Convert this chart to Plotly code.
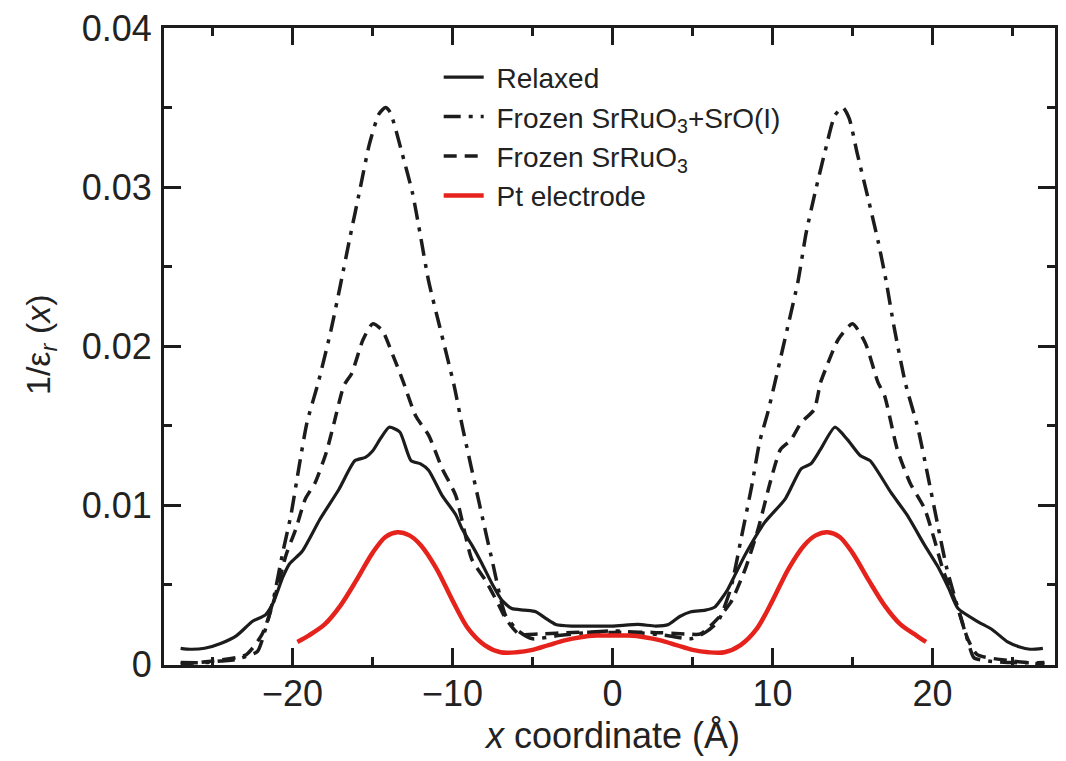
import plotly.graph_objects as go

# ---------------- data ----------------
relaxed_x = [-27.0, -26.4, -25.5, -24.5, -23.5, -22.5, -21.7, -21.2, -20.6, -20.2, -19.4, -18.3,
             -17.1, -16.1, -15.45, -15.0, -14.5, -13.96, -13.3, -12.6, -12.0, -11.5, -10.65, -9.8,
             -9.4, -8.8, -8.2, -7.5, -6.9, -6.3, -5.5, -4.8, -4.2, -3.55, -2.55, -1.5, 0.0, 1.6,
             2.7, 3.5, 4.2, 4.9, 5.8, 6.4, 6.8, 7.2, 7.65, 8.3, 9.5, 10.8, 11.8, 12.4, 13.0, 13.9,
             14.7, 15.5, 16.1, 17.4, 18.4, 19.5, 20.3, 21.0, 21.6, 22.8, 23.7, 24.7, 25.4, 26.1, 26.9]
relaxed_y = [0.0010, 0.00094, 0.0010, 0.0013, 0.0018, 0.0027, 0.0031, 0.0039, 0.0055, 0.0063, 0.0071, 0.0091,
             0.0110, 0.0128, 0.0130, 0.0134, 0.0142, 0.0149, 0.0146, 0.0128, 0.0126, 0.0122, 0.0106, 0.0094,
             0.0085, 0.0075, 0.0064, 0.0050, 0.0040, 0.0035, 0.0034, 0.0033, 0.0029, 0.0025, 0.0024, 0.0024, 0.0024, 0.0025,
             0.0024, 0.0025, 0.0030, 0.0033, 0.0034, 0.0036, 0.0041, 0.0047, 0.0056, 0.0069, 0.0089, 0.0104, 0.0123, 0.0126, 0.0135, 0.0149,
             0.0141, 0.0131, 0.0128, 0.0108, 0.0094, 0.0075, 0.0062, 0.0048, 0.0035, 0.0027, 0.0022, 0.0014, 0.0011, 0.00094, 0.0010]

frozen_sro_x = [-27.0, -25.5, -24.5, -23.5, -22.9, -22.2, -21.7, -21.2, -20.6, -20.1, -19.6, -19.1,
                -18.4, -17.6, -17.0, -16.4, -15.8, -15.2, -14.6, -14.2, -13.9, -13.15, -12.5, -12.0,
                -11.5, -10.8, -9.9, -9.4, -8.35, -7.5, -6.7, -5.9, -5.0, -3.4, -1.5, 0.0, 1.5, 3.4,
                4.9, 5.8, 6.6, 7.4, 8.0, 8.7, 9.2, 9.7, 10.15, 10.95, 11.6, 12.1, 12.65, 13.3, 13.9,
                14.4, 14.8, 15.3, 15.95, 16.6, 17.1, 17.6, 18.3, 19.1, 19.7, 20.3, 20.9, 21.6, 22.2,
                22.6, 23.5, 25.0, 27.0]
frozen_sro_y = [0.0001, 0.0001, 0.0002, 0.0003, 0.0005, 0.0008, 0.0022, 0.0041, 0.0071, 0.0094, 0.0124, 0.0152,
                0.0177, 0.0210, 0.0239, 0.0269, 0.0298, 0.0327, 0.0346, 0.0350, 0.0347, 0.0321, 0.0296, 0.0269,
                0.0241, 0.0212, 0.0175, 0.0150, 0.0102, 0.0064, 0.0031, 0.0021, 0.0016, 0.0018, 0.0020, 0.0021, 0.0020, 0.0018,
                0.0016, 0.0020, 0.0027, 0.0048, 0.0077, 0.0112, 0.0140, 0.0158, 0.0177, 0.0212, 0.0241, 0.0271, 0.0296, 0.0323, 0.0345,
                0.0350, 0.0343, 0.0321, 0.0294, 0.0266, 0.0241, 0.0212, 0.0177, 0.0148, 0.0119, 0.0089, 0.0060, 0.0035, 0.0015,
                0.0004, 0.0002, 0.0001, 0.0001]

frozen_x = [-27.0, -25.0, -22.9, -21.9, -21.2, -20.4, -19.8, -19.2, -18.6, -17.9, -17.4, -16.8,
            -16.3, -15.6, -15.0, -14.4, -13.8, -13.1, -12.3, -11.5, -10.65, -9.8, -8.8, -7.9,
            -7.1, -6.7, -5.85, -4.6, -2.5, 0.0, 2.5, 4.6, 5.5, 6.6, 7.4, 8.3, 9.1, 9.9, 10.5,
            11.15, 11.8, 12.6, 13.0, 13.3, 14.1, 15.0, 15.8, 16.6, 17.0, 17.8, 18.6, 19.5, 20.1,
            20.7, 21.6, 22.2, 22.8, 25.0, 27.0]
frozen_y = [0.0000, 0.0002, 0.0006, 0.0019, 0.0039, 0.0069, 0.0085, 0.0104, 0.0114, 0.0133, 0.0152, 0.0175,
            0.0183, 0.0204, 0.0214, 0.0210, 0.0196, 0.0178, 0.0156, 0.0144, 0.0123, 0.0106, 0.0066, 0.0052,
            0.0037, 0.0029, 0.0019, 0.0019, 0.0020, 0.0020, 0.0020, 0.0019, 0.0019, 0.0029, 0.0039, 0.0060, 0.0085, 0.0116, 0.0135,
            0.0141, 0.0152, 0.0160, 0.0177, 0.0185, 0.0204, 0.0214, 0.0202, 0.0177, 0.0169, 0.0135, 0.0114, 0.0098, 0.0079,
            0.0058, 0.0035, 0.0016, 0.0006, 0.0002, 0.0000]

pt_x = [-19.7, -19.0, -18.0, -17.0, -16.0, -15.0, -14.2, -13.45, -12.7, -12.0, -11.0, -10.0, -9.0,
        -8.0, -7.0, -6.0, -5.0, -4.0, -3.0, -2.0, -1.0, 0.0, 1.0, 2.0, 3.0, 4.0, 5.0, 6.0, 7.0,
        8.0, 9.0, 10.0, 11.0, 12.0, 12.7, 13.45, 14.2, 15.0, 16.0, 17.0, 18.0, 19.0, 19.6]
pt_y = [0.0014, 0.0018, 0.0025, 0.0037, 0.0053, 0.0070, 0.0080, 0.0083, 0.0081, 0.0075, 0.0060, 0.0040, 0.0022,
        0.0012, 0.00075, 0.00075, 0.0009, 0.0012, 0.0015, 0.0017, 0.0018, 0.0018, 0.0018, 0.0017, 0.0015, 0.0012, 0.0009, 0.00075, 0.00075,
        0.0012, 0.0022, 0.0040, 0.0060, 0.0075, 0.0081, 0.0083, 0.0080, 0.0070, 0.0053, 0.0037, 0.0025, 0.0018, 0.0014]

x_ticks = [-20, -10, 0, 10, 20]
y_ticks = [0, 0.01, 0.02, 0.03, 0.04]
y_tick_labels = ["0", "0.01", "0.02", "0.03", "0.04"]

names = ["\u00a0Relaxed", "\u00a0Frozen SrRuO<sub>3</sub>+SrO(I)", "\u00a0Frozen SrRuO<sub>3</sub>", "\u00a0Pt electrode"]

# ---------------- figure ----------------
BLACK = "#1c1c1c"
RED = "#e5231c"
TXT = "#222222"
FONT = "Liberation Sans, Arial, Helvetica, sans-serif"

fig = go.Figure()
fig.add_trace(go.Scatter(x=relaxed_x, y=relaxed_y, mode="lines", name=names[0],
                         line=dict(color=BLACK, width=3.2, shape="spline", smoothing=0.6)))
fig.add_trace(go.Scatter(x=frozen_sro_x, y=frozen_sro_y, mode="lines", name=names[1],
                         line=dict(color=BLACK, width=3.5, dash="17px,8px,4px,8px", shape="spline", smoothing=0.6)))
fig.add_trace(go.Scatter(x=frozen_x, y=frozen_y, mode="lines", name=names[2],
                         line=dict(color=BLACK, width=3.5, dash="13px,8px", shape="spline", smoothing=0.6)))
fig.add_trace(go.Scatter(x=pt_x, y=pt_y, mode="lines", name=names[3],
                         line=dict(color=RED, width=4.5, shape="spline", smoothing=0.9)))

fig.update_layout(
    width=1066, height=761,
    margin=dict(l=164, r=8, t=24, b=96),
    paper_bgcolor="white", plot_bgcolor="white",
    font=dict(family=FONT, color=TXT),
    showlegend=True,
    legend=dict(x=0.3083, y=0.9615, xanchor="left", yanchor="top",
                bgcolor="rgba(0,0,0,0)", borderwidth=0,
                font=dict(family=FONT, size=28, color=TXT),
                itemwidth=40, tracegroupgap=0),
    xaxis=dict(range=[-28.04, 27.66], tickvals=x_ticks, ticks="inside", ticklen=17, tickwidth=3,
               tickcolor=BLACK, showline=True, linecolor=BLACK, linewidth=3, mirror="ticks",
               showgrid=False, zeroline=False, ticklabelstandoff=-5,
               tickfont=dict(family=FONT, size=36, color=TXT),
               minor=dict(dtick=5, tick0=0, ticks="inside", ticklen=8, tickwidth=3, tickcolor=BLACK, showgrid=False)),
    yaxis=dict(range=[-0.00005, 0.04], tickvals=y_ticks, ticktext=y_tick_labels, ticks="inside", ticklen=17,
               tickwidth=3, tickcolor=BLACK, showline=True, linecolor=BLACK, linewidth=3, mirror="ticks",
               showgrid=False, zeroline=False, ticklabelstandoff=2, ticklabeloverflow="allow",
               tickfont=dict(family=FONT, size=36, color=TXT),
               minor=dict(dtick=0.005, tick0=0, ticks="inside", ticklen=8, tickwidth=3, tickcolor=BLACK, showgrid=False)),
)

fig.add_annotation(text="<i>x</i> coordinate (Å)", xref="paper", yref="paper", x=0.503, y=-0.1108,
                   xanchor="center", yanchor="middle", showarrow=False,
                   font=dict(family=FONT, size=36, color=TXT))
fig.add_annotation(text="1/ε<sub><i>r</i></sub> (<i>x</i>)", xref="paper", yref="paper", x=-0.1387, y=0.503,
                   xanchor="center", yanchor="middle", showarrow=False, textangle=-90,
                   font=dict(family=FONT, size=34, color=TXT))

fig.write_html("out.html", config={"displayModeBar": False},
               post_script="document.body.style.margin='0px';")
